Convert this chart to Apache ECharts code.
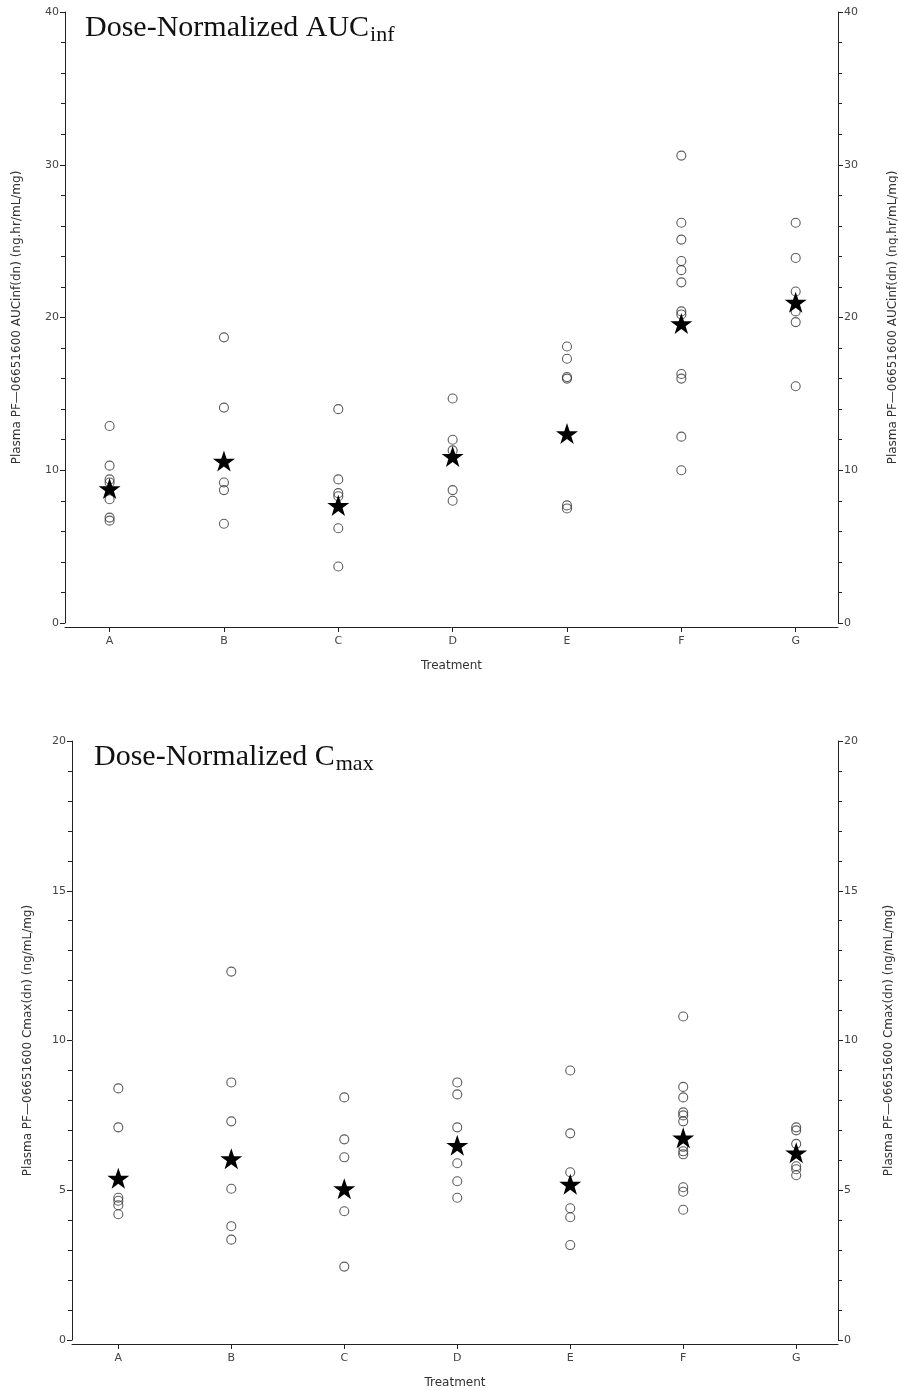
<!DOCTYPE html>
<html>
<head>
<meta charset="utf-8">
<script src="https://cdn.jsdelivr.net/npm/echarts@6/dist/echarts.min.js"></script>
<style>
html,body{margin:0;padding:0;background:#fff;}
#chart{width:898px;height:1391px;}
</style>
</head>
<body>
<div id="chart"></div>
<script>
const categories = ['A', 'B', 'C', 'D', 'E', 'F', 'G'];

// Dose-normalized AUCinf: individual values per treatment
const aucIndividual = [
  [12.9, 10.3, 9.4, 9.2, 8.1, 6.9, 6.7],
  [18.7, 14.1, 9.2, 8.7, 6.5],
  [14.0, 9.4, 8.5, 8.3, 6.2, 3.7],
  [14.7, 12.0, 11.3, 8.7, 8.0],
  [18.1, 17.3, 16.1, 16.0, 7.7, 7.5],
  [30.6, 26.2, 25.1, 23.7, 23.1, 22.3, 20.4, 20.2, 16.3, 16.0, 12.2, 10.0],
  [26.2, 23.9, 21.7, 20.4, 19.7, 15.5]
];
const aucMean = [8.8, 10.6, 7.7, 10.9, 12.4, 19.6, 21.0];
const aucTicks = { min: 0, max: 40, interval: 10 };

// Dose-normalized Cmax: individual values per treatment
const cmaxIndividual = [
  [8.4, 7.1, 4.75, 4.65, 4.5, 4.2],
  [12.3, 8.6, 7.3, 5.05, 3.8, 3.35],
  [8.1, 6.7, 6.1, 4.3, 2.45],
  [8.6, 8.2, 7.1, 5.9, 5.3, 4.75],
  [9.0, 6.9, 5.6, 4.4, 4.1, 3.17],
  [10.8, 8.45, 8.1, 7.6, 7.5, 7.3, 6.45, 6.3, 6.2, 5.1, 4.95, 4.35],
  [7.1, 7.0, 6.55, 5.8, 5.7, 5.5]
];
const cmaxMean = [5.4, 6.05, 5.05, 6.5, 5.2, 6.75, 6.25];
const cmaxTicks = { min: 0, max: 20, interval: 5 };

const aucAxisName = 'Plasma PF\u201406651600 AUCinf(dn) (ng.hr/mL/mg)';
const cmaxAxisName = 'Plasma PF\u201406651600 Cmax(dn) (ng/mL/mg)';

const STAR = 'path://M50,0 L61.8,35.3 L98.1,35.3 L68.8,57.1 L79.4,91.9 L50,70 L20.6,91.9 L31.2,57.1 L1.9,35.3 L38.2,35.3 Z';
const SANS = 'DejaVu Sans';
const SERIF = 'Liberation Serif';
const AXIS_COLOR = '#222';
const LABEL_COLOR = '#444';
const catIdx = categories.map((c, i) => i);

function toPoints(groups) {
  const pts = [];
  groups.forEach((g, i) => g.forEach(v => pts.push([i, v])));
  return pts;
}

function xAxisCfg(gridIndex, min, max) {
  return {
    type: 'value', gridIndex, min, max,
    name: 'Treatment', nameLocation: 'middle', nameGap: 33,
    nameTextStyle: { fontFamily: SANS, fontSize: 12, color: '#333' },
    offset: 4,
    axisLine: { show: true, onZero: false, lineStyle: { color: AXIS_COLOR, width: 1 } },
    axisTick: { show: true, customValues: catIdx, length: 5, lineStyle: { color: AXIS_COLOR } },
    axisLabel: { customValues: catIdx, formatter: v => categories[Math.round(v)] || '', fontFamily: SANS, fontSize: 11, color: LABEL_COLOR, margin: 9 },
    splitLine: { show: false }
  };
}

function yAxisCfg(gridIndex, ticks, name, position, gap) {
  return {
    type: 'value', gridIndex, position,
    min: ticks.min, max: ticks.max, interval: ticks.interval,
    name, nameLocation: 'middle', nameGap: gap, nameRotate: 90,
    nameTextStyle: { fontFamily: SANS, fontSize: 12, color: '#333' },
    axisLine: { show: true, onZero: false, lineStyle: { color: AXIS_COLOR, width: 1 } },
    axisTick: { show: true, length: 5, lineStyle: { color: AXIS_COLOR } },
    minorTick: { show: true, splitNumber: 5, length: 4, lineStyle: { color: AXIS_COLOR } },
    axisLabel: { fontFamily: SANS, fontSize: 11, color: LABEL_COLOR, margin: 6 },
    splitLine: { show: false },
    minorSplitLine: { show: false }
  };
}

function circleSeries(xi, yi, groups) {
  return {
    type: 'scatter', xAxisIndex: xi, yAxisIndex: yi,
    data: toPoints(groups), symbol: 'circle', symbolSize: 9,
    itemStyle: { color: 'rgba(255,255,255,0)', borderColor: '#333', borderWidth: 1.1 },
    z: 2, silent: true
  };
}

function starSeries(xi, yi, means) {
  return {
    type: 'scatter', xAxisIndex: xi, yAxisIndex: yi,
    data: means.map((v, i) => [i, v]), symbol: STAR, symbolSize: 22, symbolKeepAspect: true,
    itemStyle: { color: '#000', opacity: 1 }, z: 3, silent: true
  };
}

const chart = echarts.init(document.getElementById('chart'), null, { renderer: 'canvas' });
chart.setOption({
  backgroundColor: '#fff',
  animation: false,
  title: [
    {
      text: '{a|Dose-Normalized AUC}{b|inf}', left: 80, top: 6,
      textStyle: { fontWeight: 'normal', rich: {
        a: { fontFamily: SERIF, fontSize: 30, fontWeight: 'normal', color: '#111' },
        b: { fontFamily: SERIF, fontSize: 22, fontWeight: 'normal', color: '#111', padding: [13, 0, 0, 1] }
      } }
    },
    {
      text: '{a|Dose-Normalized C}{b|max}', left: 89, top: 735,
      textStyle: { fontWeight: 'normal', rich: {
        a: { fontFamily: SERIF, fontSize: 30, fontWeight: 'normal', color: '#111' },
        b: { fontFamily: SERIF, fontSize: 22, fontWeight: 'normal', color: '#111', padding: [13, 0, 0, 1] }
      } }
    }
  ],
  grid: [
    { left: 65, right: 60, top: 12, height: 611, outerBoundsMode: 'none', containLabel: false },
    { left: 72, right: 60, top: 741, height: 599, outerBoundsMode: 'none', containLabel: false }
  ],
  xAxis: [
    xAxisCfg(0, -0.39, 6.37),
    xAxisCfg(1, -0.41, 6.37)
  ],
  yAxis: [
    yAxisCfg(0, aucTicks, aucAxisName, 'left', 42),
    yAxisCfg(0, aucTicks, aucAxisName, 'right', 49),
    yAxisCfg(1, cmaxTicks, cmaxAxisName, 'left', 38),
    yAxisCfg(1, cmaxTicks, cmaxAxisName, 'right', 45)
  ],
  series: [
    circleSeries(0, 0, aucIndividual),
    starSeries(0, 0, aucMean),
    circleSeries(1, 2, cmaxIndividual),
    starSeries(1, 2, cmaxMean)
  ]
});
</script>
</body>
</html>
